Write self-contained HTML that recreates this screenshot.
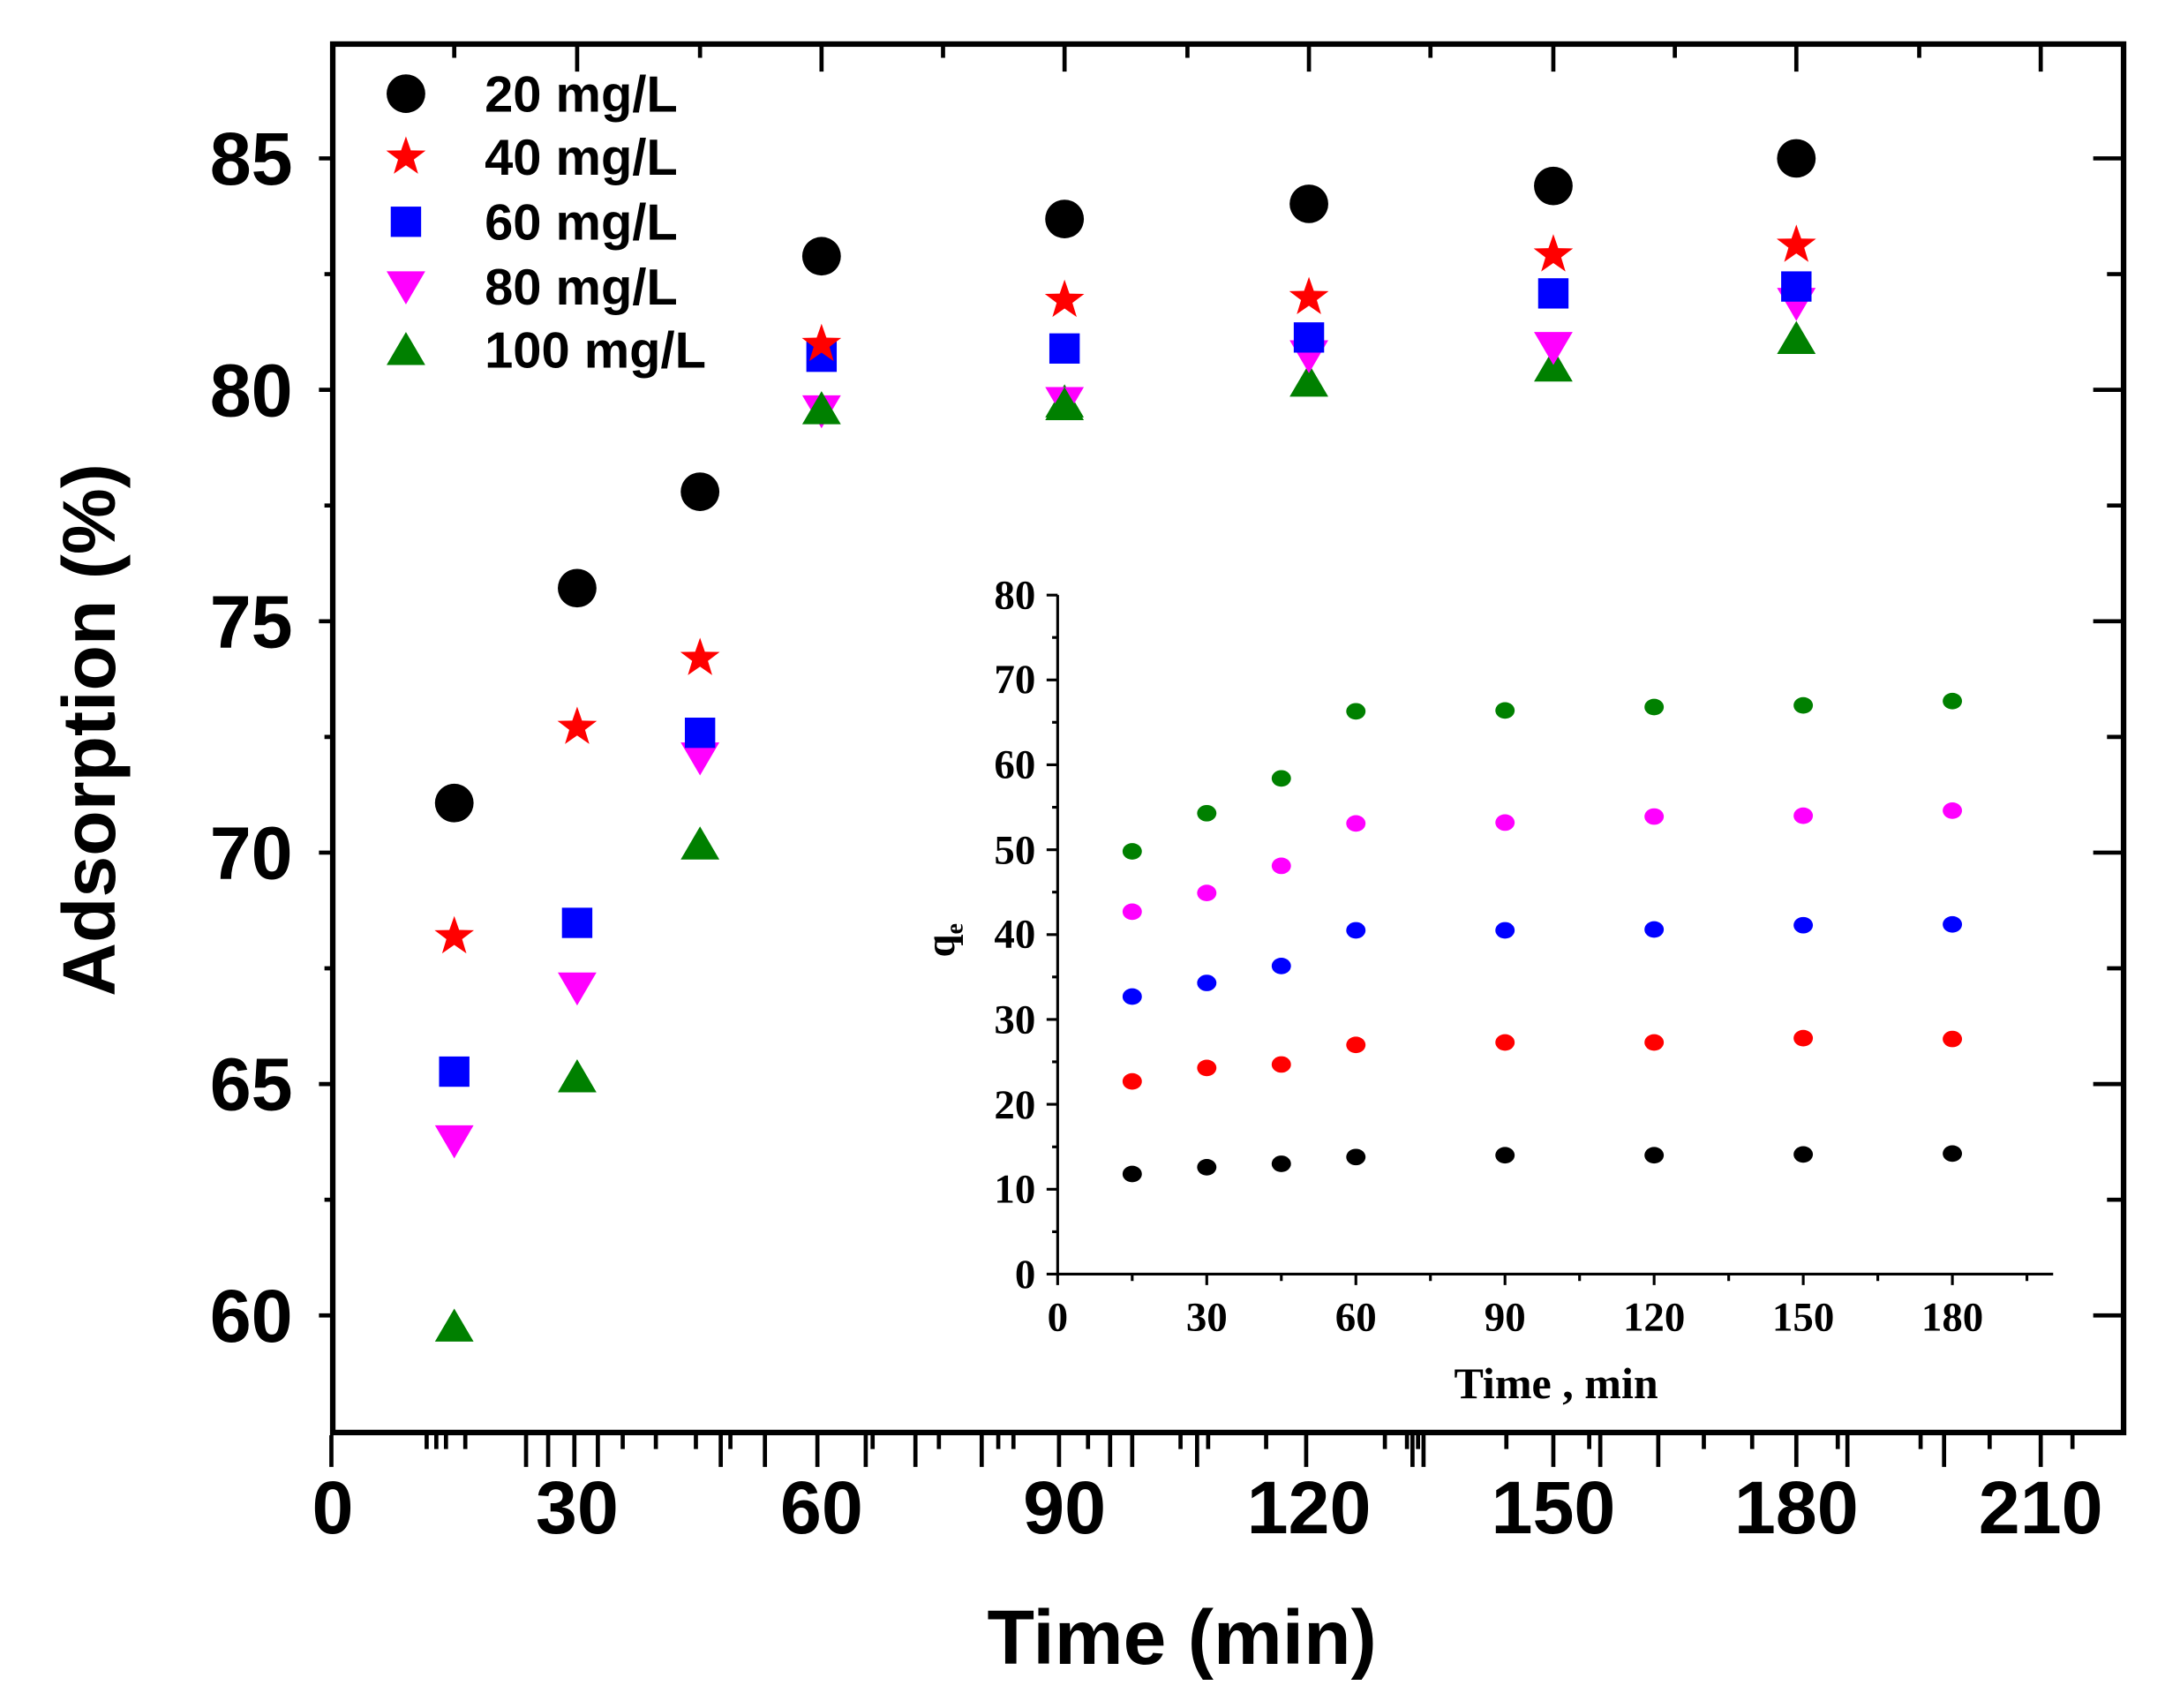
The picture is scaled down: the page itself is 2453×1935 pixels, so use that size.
<!DOCTYPE html>
<html><head><meta charset="utf-8"><style>html,body{margin:0;padding:0;background:#fff}svg{display:block}</style></head>
<body>
<svg width="2453" height="1935" viewBox="-1 0 1568 1240" preserveAspectRatio="none" xmlns="http://www.w3.org/2000/svg">
<defs>
<circle id="c" r="14" fill="#000"/>
<polygon id="s" fill="#ff0000" points="0,-15 3.53,-4.85 14.27,-4.64 5.71,1.85 8.82,12.14 0,6 -8.82,12.14 -5.71,1.85 -14.27,-4.64 -3.53,-4.85"/>
<rect id="q" x="-11" y="-11" width="22" height="22" fill="#0000ff"/>
<polygon id="d" fill="#ff00ff" points="-14,-11 14,-11 0,13"/>
<polygon id="u" fill="#008000" points="-14,11 14,11 0,-13"/>
</defs>
<rect x="240" y="32" width="1297" height="1008" fill="none" stroke="#000" stroke-width="4"/>
<g stroke="#000" stroke-width="3">
<path d="M230 115H240M230 283H240M230 451H240M230 619H240M230 787H240M230 955H240M234 199H240M234 367H240M234 535H240M234 703H240M234 871H240"/>
<path d="M1515 115H1537M1515 283H1537M1515 451H1537M1515 619H1537M1515 787H1537M1515 955H1537M1525 199H1537M1525 367H1537M1525 535H1537M1525 703H1537M1525 871H1537"/>
<path d="M240 32V42M417 32V52M594 32V52M770 32V52M947 32V52M1124 32V52M1300 32V52M1477 32V52M328 32V42M506 32V42M682 32V42M859 32V42M1035 32V42M1212 32V42M1389 32V42"/>
<path d="M239 1042V1065M380 1042V1065M396 1042V1065M415 1042V1065M432 1042V1065M521 1042V1065M553 1042V1065M591 1042V1065M626 1042V1065M662 1042V1065M710 1042V1065M766 1042V1065M803 1042V1065M819 1042V1065M866 1042V1065M945 1042V1065M1022 1042V1065M1030 1042V1065M1124 1042V1065M1158 1042V1065M1200 1042V1065M1300 1042V1065M1337 1042V1065M1407 1042V1065M1477 1042V1065"/>
<path d="M308 1042V1052M315 1042V1052M322 1042V1052M336 1042V1052M450 1042V1052M474 1042V1052M503 1042V1052M528 1042V1052M631 1042V1052M679 1042V1052M722 1042V1052M733 1042V1052M787 1042V1052M854 1042V1052M874 1042V1052M916 1042V1052M1002 1042V1052M1018 1042V1052M1026 1042V1052M1090 1042V1052M1150 1042V1052M1233 1042V1052M1268 1042V1052M1330 1042V1052M1390 1042V1052M1440 1042V1052M1500 1042V1052"/>
</g>
<g font-family="Liberation Sans, Arial, sans-serif" font-weight="bold" font-size="54" fill="#000">
<g text-anchor="end"><text x="211" y="134">85</text><text x="211" y="302">80</text><text x="211" y="470">75</text><text x="211" y="638">70</text><text x="211" y="806">65</text><text x="211" y="974">60</text></g>
<g text-anchor="middle"><text x="240" y="1113">0</text><text x="417" y="1113">30</text><text x="594" y="1113">60</text><text x="770" y="1113">90</text><text x="947" y="1113">120</text><text x="1124" y="1113">150</text><text x="1300" y="1113">180</text><text x="1477" y="1113">210</text>
<text x="855" y="1208" font-size="56">Time (min)</text>
<text transform="translate(82,530) rotate(-90)" font-size="54">Adsorption (%)</text></g>
<g font-size="37"><text x="350" y="81">20 mg/L</text><text x="350" y="127">40 mg/L</text><text x="350" y="174">60 mg/L</text><text x="350" y="221">80 mg/L</text><text x="350" y="267">100 mg/L</text></g>
</g>
<use href="#c" x="293" y="68"/><use href="#s" x="293" y="114"/><use href="#q" x="293" y="161"/><use href="#d" x="293" y="208"/><use href="#u" x="293" y="254"/>
<g>
<use href="#c" x="328" y="583"/><use href="#c" x="417" y="427"/><use href="#c" x="506" y="357"/><use href="#c" x="594" y="186"/><use href="#c" x="770" y="159"/><use href="#c" x="947" y="148"/><use href="#c" x="1124" y="135"/><use href="#c" x="1300" y="115"/>
<use href="#u" x="328" y="963"/><use href="#u" x="417" y="782"/><use href="#u" x="506" y="613"/><use href="#u" x="770" y="292"/><use href="#u" x="947" y="277"/><use href="#u" x="1124" y="266"/><use href="#u" x="1300" y="246"/>
<use href="#d" x="328" y="828"/><use href="#d" x="417" y="717"/><use href="#d" x="506" y="550"/><use href="#d" x="594" y="298"/><use href="#d" x="770" y="292"/><use href="#d" x="947" y="258"/><use href="#d" x="1124" y="252"/><use href="#d" x="1300" y="220"/>
<use href="#u" x="594" y="297"/><use href="#u" x="770" y="294"/>
<use href="#q" x="328" y="778"/><use href="#q" x="417" y="670"/><use href="#q" x="506" y="532"/><use href="#q" x="594" y="259"/><use href="#q" x="770" y="253"/><use href="#q" x="947" y="245"/><use href="#q" x="1124" y="213"/><use href="#q" x="1300" y="208"/>
<use href="#s" x="328" y="680"/><use href="#s" x="417" y="528"/><use href="#s" x="506" y="478"/><use href="#s" x="594" y="250"/><use href="#s" x="770" y="218"/><use href="#s" x="947" y="216"/><use href="#s" x="1124" y="185"/><use href="#s" x="1300" y="178"/>
</g>
<!-- inset -->
<g stroke="#000" stroke-width="2" fill="none">
<path d="M765 432V925H1486"/>
<path d="M757 925H765M757 863.4H765M757 801.7H765M757 740.1H765M757 678.5H765M757 616.9H765M757 555.2H765M757 493.6H765M757 432H765"/>
<path d="M761 894.2H765M761 832.6H765M761 770.9H765M761 709.3H765M761 647.7H765M761 586.1H765M761 524.4H765M761 462.8H765"/>
<path d="M765 925V933M873 925V933M981 925V933M1089 925V933M1197 925V933M1305 925V933M1413 925V933"/>
<path d="M819 925V930M927 925V930M1035 925V930M1143 925V930M1251 925V930M1359 925V930M1467 925V930"/>
</g>
<g font-family="Liberation Serif, Times New Roman, serif" font-weight="bold" font-size="30" fill="#000">
<g text-anchor="end"><text x="749" y="935">0</text><text x="749" y="873">10</text><text x="749" y="812">20</text><text x="749" y="750">30</text><text x="749" y="688">40</text><text x="749" y="627">50</text><text x="749" y="565">60</text><text x="749" y="503">70</text><text x="749" y="442">80</text></g>
<g text-anchor="middle"><text x="765" y="966">0</text><text x="873" y="966">30</text><text x="981" y="966">60</text><text x="1089" y="966">90</text><text x="1197" y="966">120</text><text x="1305" y="966">150</text><text x="1413" y="966">180</text>
<text x="1126" y="1015" font-size="32">Time , min</text></g>
<text transform="translate(690,695) rotate(-90)" font-size="30">q<tspan font-size="18" dy="6">e</tspan></text>
</g>
<g>
<g fill="#000"><ellipse cx="819" cy="852.3" rx="7" ry="6"/><ellipse cx="873" cy="847.4" rx="7" ry="6"/><ellipse cx="927" cy="844.9" rx="7" ry="6"/><ellipse cx="981" cy="840" rx="7" ry="6"/><ellipse cx="1089" cy="838.7" rx="7" ry="6"/><ellipse cx="1197" cy="838.7" rx="7" ry="6"/><ellipse cx="1305" cy="838.1" rx="7" ry="6"/><ellipse cx="1413" cy="837.5" rx="7" ry="6"/></g>
<g fill="#ff0000"><ellipse cx="819" cy="785.1" rx="7" ry="6"/><ellipse cx="873" cy="775.3" rx="7" ry="6"/><ellipse cx="927" cy="772.8" rx="7" ry="6"/><ellipse cx="981" cy="758.6" rx="7" ry="6"/><ellipse cx="1089" cy="756.8" rx="7" ry="6"/><ellipse cx="1197" cy="756.8" rx="7" ry="6"/><ellipse cx="1305" cy="753.7" rx="7" ry="6"/><ellipse cx="1413" cy="754.3" rx="7" ry="6"/></g>
<g fill="#0000ff"><ellipse cx="819" cy="723.5" rx="7" ry="6"/><ellipse cx="873" cy="713.6" rx="7" ry="6"/><ellipse cx="927" cy="701.3" rx="7" ry="6"/><ellipse cx="981" cy="675.4" rx="7" ry="6"/><ellipse cx="1089" cy="675.4" rx="7" ry="6"/><ellipse cx="1197" cy="674.8" rx="7" ry="6"/><ellipse cx="1305" cy="671.7" rx="7" ry="6"/><ellipse cx="1413" cy="671.1" rx="7" ry="6"/></g>
<g fill="#ff00ff"><ellipse cx="819" cy="661.9" rx="7" ry="6"/><ellipse cx="873" cy="648.3" rx="7" ry="6"/><ellipse cx="927" cy="628.6" rx="7" ry="6"/><ellipse cx="981" cy="597.8" rx="7" ry="6"/><ellipse cx="1089" cy="597.2" rx="7" ry="6"/><ellipse cx="1197" cy="592.8" rx="7" ry="6"/><ellipse cx="1305" cy="592.2" rx="7" ry="6"/><ellipse cx="1413" cy="588.5" rx="7" ry="6"/></g>
<g fill="#008000"><ellipse cx="819" cy="618.1" rx="7" ry="6"/><ellipse cx="873" cy="590.4" rx="7" ry="6"/><ellipse cx="927" cy="565.1" rx="7" ry="6"/><ellipse cx="981" cy="516.4" rx="7" ry="6"/><ellipse cx="1089" cy="515.8" rx="7" ry="6"/><ellipse cx="1197" cy="513.3" rx="7" ry="6"/><ellipse cx="1305" cy="512.1" rx="7" ry="6"/><ellipse cx="1413" cy="509" rx="7" ry="6"/></g>
</g>
</svg>
</body></html>
